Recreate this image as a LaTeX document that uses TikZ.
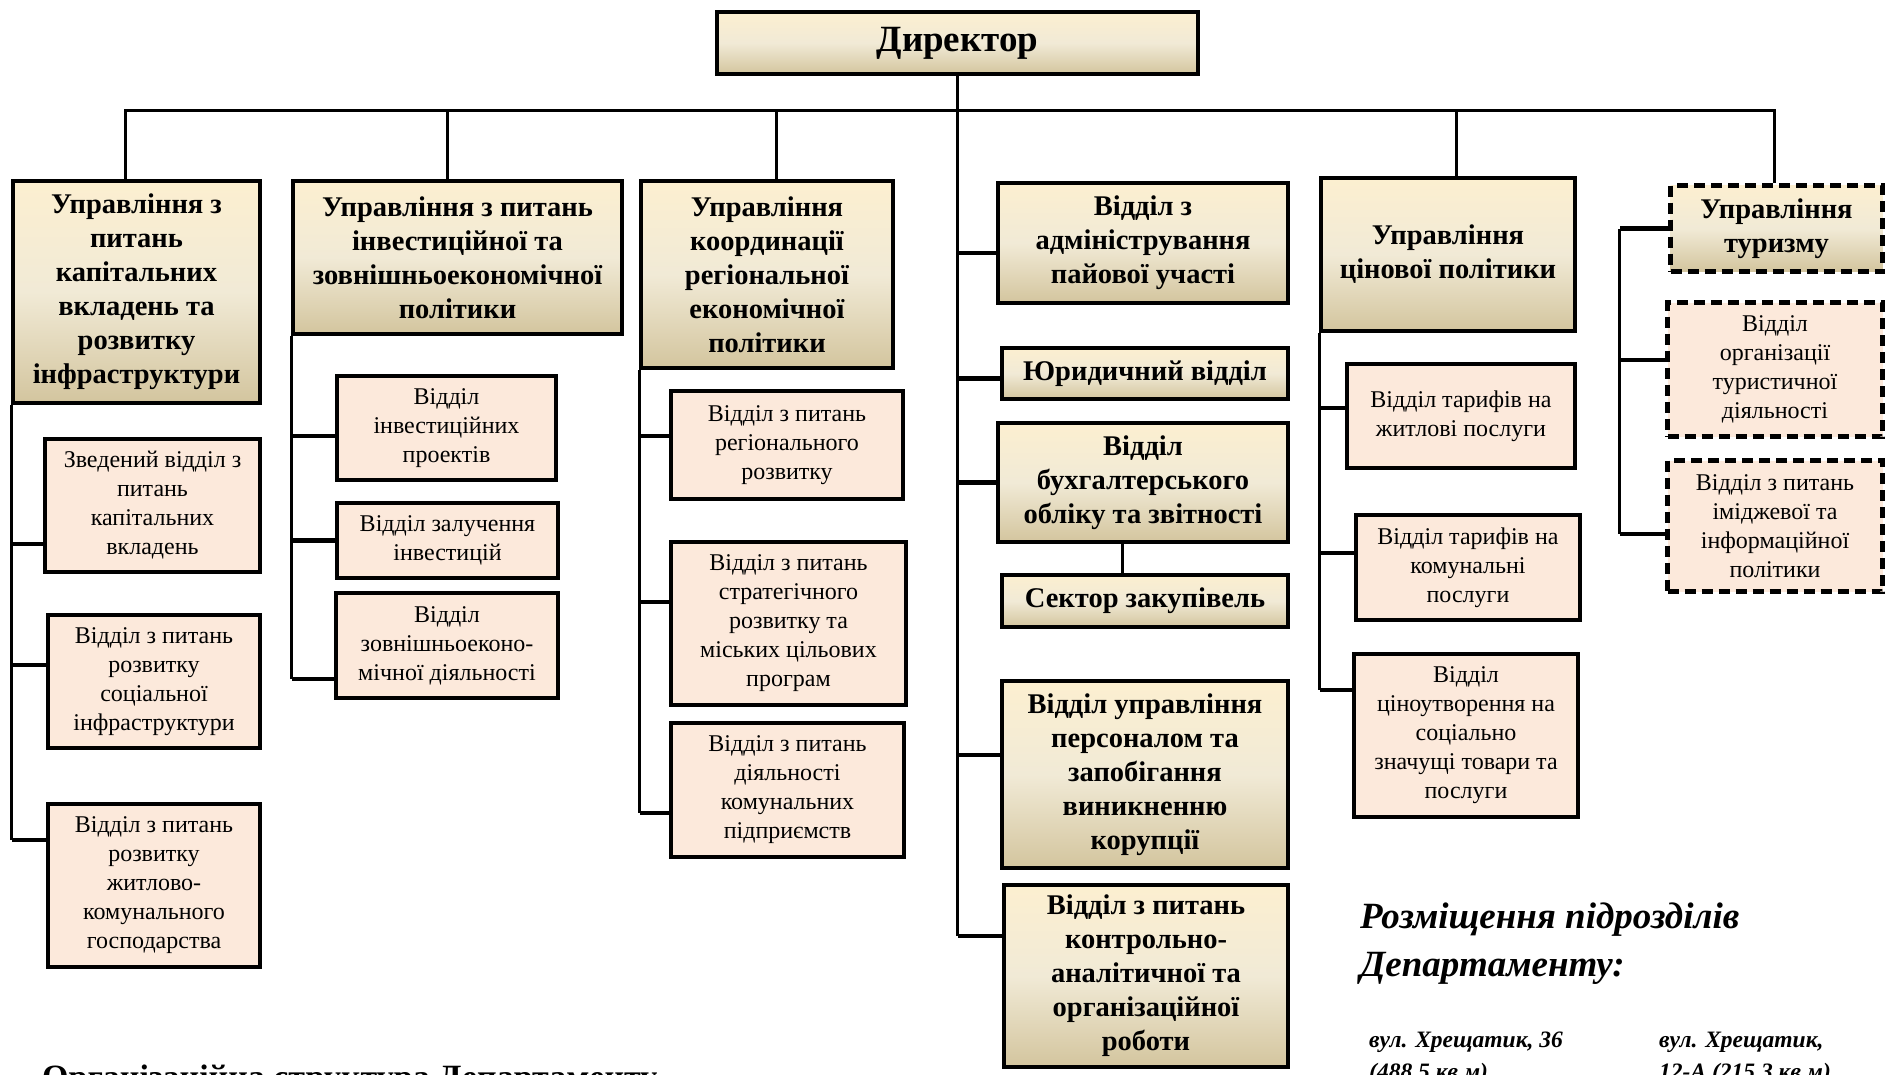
\documentclass[tikz,border=0pt]{standalone}
\usepackage{fontspec}
\setmainfont{Liberation Serif}
\usepackage{tikz}
\usetikzlibrary{positioning}
\usetikzlibrary{calc}

\definecolor{headtop}{RGB}{252,239,208}
\definecolor{headmid}{RGB}{241,234,214}
\definecolor{headbot}{RGB}{211,197,158}
\definecolor{deptfill}{RGB}{252,233,219}

\tikzset{
	head/.style={draw, line width=4.5pt, top color=headtop, bottom color=headbot, middle color=headmid,
		align=center, inner sep=0pt, font=\fontsize{28.5}{34}\selectfont\bfseries},
	dept/.style={draw, line width=4.5pt, fill=deptfill, align=center, inner sep=0pt,
		font=\fontsize{24}{29}\selectfont},
	tour/.style={dash pattern=on 11pt off 6pt, line width=5pt},
	link/.style={line width=3pt},
	stub/.style={line width=4.5pt},
}

\begin{document}
\begin{tikzpicture}[x=1pt, y=-1pt]
	
	% the page is 1887 x 1074, y runs downwards
	\useasboundingbox (0,0) rectangle (1887,1074);
	\clip (0,0) rectangle (1887,1074);
	
	\node[head, font=\fontsize{37}{44}\selectfont\bfseries, minimum width=481pt, minimum height=62pt] (Dir) at (957.5,43) {Директор};
	
	% first level: the big units
	\node[head, minimum width=247pt, minimum height=222pt] (A1) at (136.5,292) {Управління з\\питань\\капітальних\\вкладень та\\розвитку\\інфраструктури};
	\node[head, minimum width=329pt, minimum height=153pt] (A2) at (457.5,257.5) {Управління з питань\\інвестиційної та\\зовнішньоекономічної\\політики};
	\node[head, minimum width=252pt, minimum height=187pt] (A3) at (767,274.5) {Управління\\координації\\регіональної\\економічної\\політики};
	\node[head, minimum width=254pt, minimum height=153pt] (F) at (1448,254.5) {Управління\\цінової політики};
	\node[head, tour, minimum width=212pt, minimum height=86pt] (G) at (1776.5,228.5) {Управління\\туризму};
	
	% units that hang on the director's own line
	\node[head, minimum width=290pt, minimum height=120pt] (E1) at (1143,243) {Відділ з\\адміністрування\\пайової участі};
	\node[head, minimum width=286pt, minimum height=51pt] (E2) at (1145,373.5) {Юридичний відділ};
	\node[head, minimum width=290pt, minimum height=119pt] (E3) at (1143,482.5) {Відділ\\бухгалтерського\\обліку та звітності};
	\node[head, minimum width=286pt, minimum height=52pt] (E4) at (1145,601) {Сектор закупівель};
	\node[head, minimum width=286pt, minimum height=187pt] (E5) at (1145,774.5) {Відділ управління\\персоналом та\\запобігання\\виникненню\\корупції};
	\node[head, minimum width=284pt, minimum height=182pt] (E6) at (1146,976) {Відділ з питань\\контрольно-\\аналітичної та\\організаційної\\роботи};
	
	% second level: the departments
	\node[dept, minimum width=215pt, minimum height=133pt] (C1) at (152.5,505.5) {Зведений відділ з\\питань\\капітальних\\вкладень};
	\node[dept, minimum width=212pt, minimum height=133pt] (C2) at (154,681.5) {Відділ з питань\\розвитку\\соціальної\\інфраструктури};
	\node[dept, minimum width=212pt, minimum height=163pt] (C3) at (154,885.5) {Відділ з питань\\розвитку\\житлово-\\комунального\\господарства};
	
	\node[dept, minimum width=219pt, minimum height=104pt] (B1) at (446.5,428) {Відділ\\інвестиційних\\проектів};
	\node[dept, minimum width=221pt, minimum height=75pt] (B2) at (447.5,540.5) {Відділ залучення\\інвестицій};
	\node[dept, minimum width=222pt, minimum height=105pt] (B3) at (447,645.5) {Відділ\\зовнішньоеконо-\\мічної діяльності};
	
	\node[dept, minimum width=232pt, minimum height=108pt] (D1) at (787,445) {Відділ з питань\\регіонального\\розвитку};
	\node[dept, minimum width=235pt, minimum height=163pt] (D2) at (788.5,623.5) {Відділ з питань\\стратегічного\\розвитку та\\міських цільових\\програм};
	\node[dept, minimum width=233pt, minimum height=134pt] (D3) at (787.5,790) {Відділ з питань\\діяльності\\комунальних\\підприємств};
	
	\node[dept, minimum width=228pt, minimum height=104pt] (F1) at (1461,416) {Відділ тарифів на\\житлові послуги};
	\node[dept, minimum width=224pt, minimum height=105pt] (F2) at (1468,567.5) {Відділ тарифів на\\комунальні\\послуги};
	\node[dept, minimum width=224pt, minimum height=163pt] (F3) at (1466,735.5) {Відділ\\ціноутворення на\\соціально\\значущі товари та\\послуги};
	
	\node[dept, tour, minimum width=215pt, minimum height=134pt] (G1) at (1775,369.5) {Відділ\\організації\\туристичної\\діяльності};
	\node[dept, tour, minimum width=215pt, minimum height=131pt] (G2) at (1775,526) {Відділ з питань\\іміджевої та\\інформаційної\\політики};
	
	%%%%%%%%%%%%%%%%%%%%%%%%%%%%%%%%%%%%%%%%%%%%%%%%%%%%%%%%%%%%%%
	% the bus under the director
	\coordinate (busL) at (124,110);
	\coordinate (busR) at (1776,110);
	\draw[link] (busL) -- (busR);
	\draw[link] ([xshift=-11.5pt]A1.north) -- ([xshift=-11.5pt]A1.north |- busL);
	\draw[link] ([xshift=-10.5pt]A2.north) -- ([xshift=-10.5pt]A2.north |- busL);
	\draw[link] ([xshift=9pt]A3.north) -- ([xshift=9pt]A3.north |- busL);
	\draw[link] ([xshift=8pt]F.north) -- ([xshift=8pt]F.north |- busL);
	\draw[link] ([xshift=-2.5pt]G.north) -- ([xshift=-2.5pt]G.north |- busL);
	
	% director's own line
	\draw[link] (Dir.south) -- ([yshift=40pt]E6.west -| Dir.south);
	\draw[stub] ([yshift=-10pt]E1.west) -- ([yshift=-10pt]E1.west -| Dir.south);
	\draw[stub] ([yshift=-5pt]E2.west) -- ([yshift=-5pt]E2.west -| Dir.south);
	\draw[stub] (E3.west) -- (E3.west -| Dir.south);
	\draw[stub] ([yshift=19.5pt]E5.west) -- ([yshift=19.5pt]E5.west -| Dir.south);
	\draw[stub] ([yshift=40pt]E6.west) -- ([yshift=40pt]E6.west -| Dir.south);
	\draw[link] ([xshift=-21pt]E3.south) -- ([xshift=-21pt]E3.south |- E4.north);
	
	% spines of the units
	\coordinate (A1sp) at ([xshift=1pt]A1.south west);
	\draw[link] (A1sp) -- ([yshift=45.5pt]C3.west -| A1sp);
	\draw[stub] ([yshift=-38.5pt]C1.west) -- ([yshift=-38.5pt]C1.west -| A1sp);
	\draw[stub] ([yshift=16.5pt]C2.west) -- ([yshift=16.5pt]C2.west -| A1sp);
	\draw[stub] ([yshift=45.5pt]C3.west) -- ([yshift=45.5pt]C3.west -| A1sp);
	
	\coordinate (A2sp) at ([xshift=1pt]A2.south west);
	\draw[link] (A2sp) -- ([yshift=-33.5pt]B3.west -| A2sp);
	\draw[stub] ([yshift=-8pt]B1.west) -- ([yshift=-8pt]B1.west -| A2sp);
	\draw[stub] (B2.west) -- (B2.west -| A2sp);
	\draw[stub] ([yshift=-33.5pt]B3.west) -- ([yshift=-33.5pt]B3.west -| A2sp);
	
	\coordinate (A3sp) at ([xshift=1pt]A3.south west);
	\draw[link] (A3sp) -- ([yshift=-23pt]D3.west -| A3sp);
	\draw[stub] ([yshift=9pt]D1.west) -- ([yshift=9pt]D1.west -| A3sp);
	\draw[stub] ([yshift=21.5pt]D2.west) -- ([yshift=21.5pt]D2.west -| A3sp);
	\draw[stub] ([yshift=-23pt]D3.west) -- ([yshift=-23pt]D3.west -| A3sp);
	
	\coordinate (Fsp) at ([xshift=1pt]F.south west);
	\draw[link] (Fsp) -- ([yshift=45.5pt]F3.west -| Fsp);
	\draw[stub] ([yshift=8pt]F1.west) -- ([yshift=8pt]F1.west -| Fsp);
	\draw[stub] ([yshift=14.5pt]F2.west) -- ([yshift=14.5pt]F2.west -| Fsp);
	\draw[stub] ([yshift=45.5pt]F3.west) -- ([yshift=45.5pt]F3.west -| Fsp);
	
	% tourism hangs to the left of its own box
	\coordinate (Gsp) at ([xshift=-48.5pt]G.west);
	\draw[stub] (G.west) -- (Gsp);
	\draw[link] (Gsp) -- ([yshift=-8pt]G2.west -| Gsp);
	\draw[stub] ([yshift=9.5pt]G1.west) -- ([yshift=9.5pt]G1.west -| Gsp);
	\draw[stub] ([yshift=-8pt]G2.west) -- ([yshift=-8pt]G2.west -| Gsp);
	
	% texts under the chart
	\node[anchor=base west, inner sep=0pt, font=\fontsize{34}{40}\selectfont\bfseries] (title) at (42,1088) {Організаційна структура Департаменту};
	\node[anchor=north west, align=left, inner sep=0pt, font=\fontsize{37}{48}\selectfont\bfseries\itshape] (place) at (1360,903) {Розміщення підрозділів\\Департаменту:};
	\node[anchor=north west, align=left, inner sep=0pt, font=\fontsize{23.5}{32}\selectfont\bfseries\itshape] (addr1) at (1369,1032) {вул. Хрещатик, 36\\(488,5 кв.м)};
	\node[anchor=north west, align=left, inner sep=0pt, font=\fontsize{23.5}{32}\selectfont\bfseries\itshape] (addr2) at (1659,1032) {вул. Хрещатик,\\12-А (215,3 кв.м)};
	
\end{tikzpicture}
\end{document}
